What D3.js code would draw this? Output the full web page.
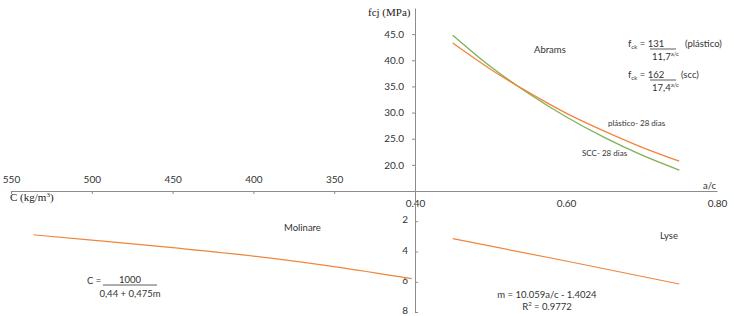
<!DOCTYPE html>
<html>
<head>
<meta charset="utf-8">
<script src="https://cdn.jsdelivr.net/npm/d3@7"></script>
<style>
  body { margin: 0; background: #fff; }
  svg { display: block; font-family: Lato, "Open Sans", sans-serif; }
  .axis path, .axis line { stroke: #8c8c8c; }
  .axis text { fill: #333; font-size: 10px; font-family: Lato, sans-serif; }
  .lbl { fill: #333; font-size: 9.5px; }
  .small { fill: #333; font-size: 8px; }
  .serif { font-family: "Liberation Serif", "DejaVu Serif", serif; fill: #222; font-size: 11px; }
</style>
</head>
<body>
<svg width="734" height="316"></svg>
<script>
// Abrams (top right): fcj vs a/c
const acPoints = [0.45, 0.50, 0.55, 0.60, 0.65, 0.70, 0.75];
const fcjPlastico = [43.3, 38.3, 33.9, 29.9, 26.5, 23.4, 20.7];
const fcjScc = [44.8, 38.8, 33.7, 29.2, 25.3, 21.9, 19.0];

// Molinare (bottom left): m vs C
const molinareC = [536, 500, 450, 400, 350, 302];
const molinareM = [2.9, 3.25, 3.75, 4.3, 5.0, 5.8];

// Lyse (bottom right): m vs a/c
const lyseAc = [0.45, 0.60, 0.75];
const lyseM = [3.15, 4.63, 6.15];

// tick labels
const fcjTicks = [20, 25, 30, 35, 40, 45];
const acTicks = [0.40, 0.60, 0.80];
const cTicks = [550, 500, 450, 400, 350];
const mTicks = [2, 4, 6, 8];

const orange = "#f0853c";
const green = "#7fb056";

const svg = d3.select("svg");

const x = d3.scaleLinear().domain([0.4, 0.8]).range([415, 717]);
const yF = d3.scaleLinear().domain([15, 50]).range([191, 8]);
const xC = d3.scaleLinear().domain([550, 300]).range([11, 415]);
const yM = d3.scaleLinear().domain([0, 8]).range([191, 312]);

// top-right y axis (fcj)
svg.append("g")
    .attr("class", "axis")
    .attr("transform", "translate(415,0)")
    .call(d3.axisLeft(yF).tickValues(fcjTicks).tickFormat(d3.format(".1f"))
        .tickSize(3).tickSizeOuter(0).tickPadding(8));

// a/c axis (shared horizontal line)
svg.append("g")
    .attr("class", "axis")
    .attr("transform", "translate(0,191)")
    .call(d3.axisBottom(x).tickValues(acTicks).tickFormat(d3.format(".2f"))
        .tickSize(0).tickSizeOuter(0).tickPadding(9));

// C axis (left)
svg.append("g")
    .attr("class", "axis")
    .attr("transform", "translate(0,191)")
    .call(d3.axisTop(xC).tickValues(cTicks)
        .tickSizeInner(-3).tickSizeOuter(0).tickPadding(8));

// m axis (bottom)
svg.append("g")
    .attr("class", "axis")
    .attr("transform", "translate(415,0)")
    .call(d3.axisLeft(yM).tickValues(mTicks)
        .tickSizeInner(-3).tickSizeOuter(0).tickPadding(7))
    .selectAll("text").attr("dy", "0.15em");

// curves
const abrams = (vals) => d3.line()
    .x((d, i) => x(acPoints[i]))
    .y((d, i) => yF(vals[i]))
    .curve(d3.curveMonotoneX)(vals);

svg.append("path")
    .attr("d", abrams(fcjScc))
    .attr("fill", "none")
    .attr("stroke", green)
    .attr("stroke-width", 1.3);

svg.append("path")
    .attr("d", abrams(fcjPlastico))
    .attr("fill", "none")
    .attr("stroke", orange)
    .attr("stroke-width", 1.3);

svg.append("path")
    .datum(molinareC.map((c, i) => [c, molinareM[i]]))
    .attr("fill", "none")
    .attr("stroke", orange)
    .attr("stroke-width", 1.2)
    .attr("d", d3.line().x(d => xC(d[0])).y(d => yM(d[1])).curve(d3.curveMonotoneX));

svg.append("path")
    .datum(lyseAc.map((a, i) => [a, lyseM[i]]))
    .attr("fill", "none")
    .attr("stroke", orange)
    .attr("stroke-width", 1.2)
    .attr("d", d3.line().x(d => x(d[0])).y(d => yM(d[1])));

// axis titles
svg.append("text").attr("class", "serif").attr("x", 368).attr("y", 16).text("fcj (MPa)");
svg.append("text").attr("class", "serif").attr("x", 10).attr("y", 201).html("C (kg/m<tspan font-size='7' dy='-4'>3</tspan><tspan dy='4'>)</tspan>");
svg.append("text").attr("class", "lbl").attr("x", 703).attr("y", 189).text("a/c");

// labels
svg.append("text").attr("class", "lbl").attr("x", 534).attr("y", 53).text("Abrams");
svg.append("text").attr("class", "small").attr("x", 608).attr("y", 126).text("plástico- 28 dias");
svg.append("text").attr("class", "small").attr("x", 582).attr("y", 156).text("SCC- 28 dias");
svg.append("text").attr("class", "lbl").attr("x", 284).attr("y", 231).text("Molinare");
svg.append("text").attr("class", "lbl").attr("x", 660).attr("y", 239).text("Lyse");

// Abrams formulas
function frac(x0, y0, num, den, tag, tagX) {
    const t = svg.append("text").attr("x", x0).attr("y", y0).attr("class", "lbl");
    t.append("tspan").text("f");
    t.append("tspan").attr("font-size", 6).attr("dy", 2).text("ck");
    t.append("tspan").attr("dy", -2).text(" = " + num);
    svg.append("line").attr("x1", 650).attr("x2", 676).attr("y1", y0 + 2).attr("y2", y0 + 2)
        .attr("stroke", "#333").attr("stroke-width", 0.8);
    const d = svg.append("text").attr("class", "lbl").attr("x", 652).attr("y", y0 + 13);
    d.append("tspan").text(den);
    d.append("tspan").attr("font-size", 6).attr("dy", -4).text("a/c");
    svg.append("text").attr("class", "lbl").attr("x", tagX).attr("y", y0).text(tag);
}
frac(628, 47, "131", "11,7", "(plástico)", 685);
frac(628, 78, "162", "17,4", "(scc)", 681);

// Molinare formula
svg.append("text").attr("class", "lbl").attr("x", 87).attr("y", 284).text("C =");
svg.append("line").attr("x1", 103).attr("x2", 157).attr("y1", 285).attr("y2", 285)
    .attr("stroke", "#333").attr("stroke-width", 0.8);
svg.append("text").attr("class", "lbl").attr("x", 130).attr("y", 283).attr("text-anchor", "middle").text("1000");
svg.append("text").attr("class", "lbl").attr("x", 130).attr("y", 297).attr("text-anchor", "middle").text("0,44 + 0,475m");

// Lyse formula
svg.append("text").attr("class", "lbl").attr("x", 547).attr("y", 298).attr("text-anchor", "middle").text("m = 10.059a/c - 1.4024");
svg.append("text").attr("class", "lbl").attr("x", 547).attr("y", 310).attr("text-anchor", "middle")
    .html("R<tspan font-size='6' dy='-4'>2</tspan><tspan dy='4'> = 0.9772</tspan>");
</script>
</body>
</html>
